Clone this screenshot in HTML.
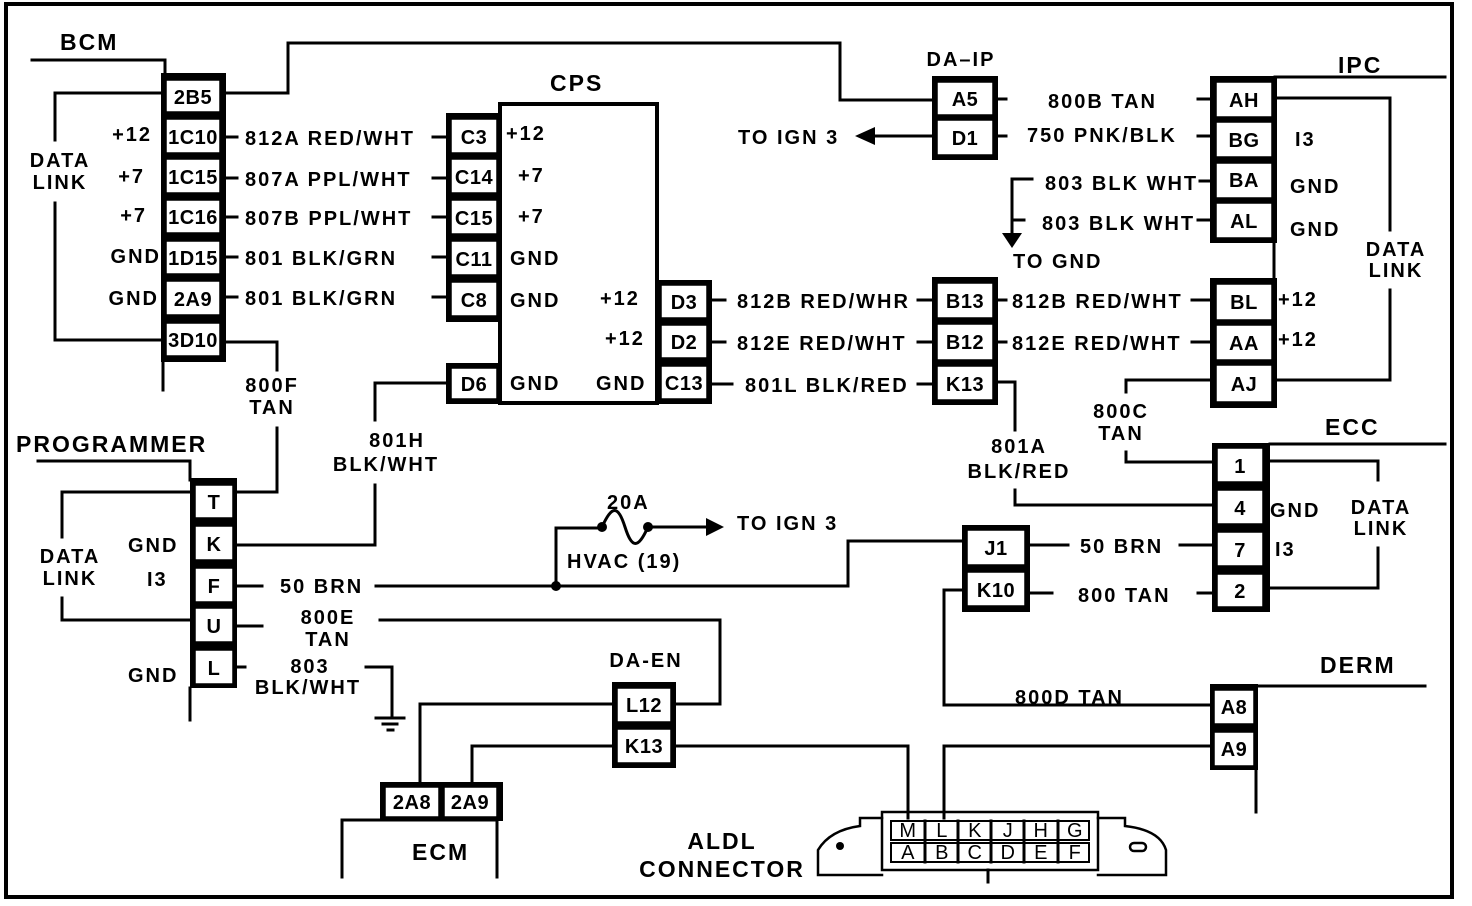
<!DOCTYPE html><html><head><meta charset="utf-8"><style>
body{margin:0;background:#fff}
svg{display:block}
text{font-family:"Liberation Sans",sans-serif;font-weight:bold;font-size:20px;fill:#000;letter-spacing:2px}
.c{text-anchor:middle}
.r{text-anchor:end}
.b{letter-spacing:0.5px}
line,polyline,path{stroke:#000;stroke-width:3;fill:none;stroke-linecap:square}
.w{fill:#fff;stroke:#000;stroke-width:1.5}
.k{fill:#000}
</style></head><body>
<svg width="1472" height="906" viewBox="0 0 1472 906" xmlns="http://www.w3.org/2000/svg">
<rect x="6" y="4" width="1446" height="893" fill="none" stroke="#000" stroke-width="4"/>

<!-- BCM -->
<text x="60" y="50" style="font-size:23px">BCM</text>
<polyline points="32,60 165,60 165,74"/>
<rect class="k" x="161" y="73" width="65" height="289"/>
<rect class="w" x="166" y="80" width="54" height="32"/><text class="c b" x="193" y="104">2B5</text>
<rect class="w" x="166" y="119" width="54" height="34"/><text class="c b" x="193" y="144">1C10</text>
<rect class="w" x="166" y="159" width="54" height="34"/><text class="c b" x="193" y="184">1C15</text>
<rect class="w" x="166" y="200" width="54" height="33"/><text class="c b" x="193" y="224">1C16</text>
<rect class="w" x="166" y="241" width="54" height="33"/><text class="c b" x="193" y="265">1D15</text>
<rect class="w" x="166" y="281" width="54" height="34"/><text class="c b" x="193" y="306">2A9</text>
<rect class="w" x="166" y="323" width="54" height="33"/><text class="c b" x="193" y="347">3D10</text>
<line x1="163" y1="362" x2="163" y2="390"/>
<polyline points="165,93 55,93 55,140"/>
<text class="c" x="60" y="167">DATA</text><text class="c" x="60" y="189">LINK</text>
<polyline points="55,203 55,340 165,340"/>
<text class="r" x="152" y="141">+12</text>
<text class="r" x="145" y="183">+7</text>
<text class="r" x="147" y="222">+7</text>
<text class="r" x="161" y="263">GND</text>
<text class="r" x="159" y="305">GND</text>
<polyline points="225,93 288,93 288,43 840,43 840,100 932,100"/>
<line x1="226" y1="137" x2="237" y2="137"/><text x="245" y="145">812A RED/WHT</text><line x1="433" y1="137" x2="446" y2="137"/>
<line x1="226" y1="178" x2="237" y2="178"/><text x="245" y="186">807A PPL/WHT</text><line x1="433" y1="178" x2="446" y2="178"/>
<line x1="226" y1="217" x2="237" y2="217"/><text x="245" y="225">807B PPL/WHT</text><line x1="433" y1="217" x2="446" y2="217"/>
<line x1="226" y1="257" x2="237" y2="257"/><text x="245" y="265">801 BLK/GRN</text><line x1="433" y1="257" x2="446" y2="257"/>
<line x1="226" y1="297" x2="237" y2="297"/><text x="245" y="305">801 BLK/GRN</text><line x1="433" y1="297" x2="446" y2="297"/>
<polyline points="226,342 277,342 277,370"/>
<text class="c" x="272" y="392">800F</text><text class="c" x="272" y="414">TAN</text>
<polyline points="277,428 277,492 236,492"/>

<!-- CPS -->
<text x="550" y="91" style="font-size:23px">CPS</text>
<rect x="500" y="104" width="157" height="299" fill="none" stroke="#000" stroke-width="4"/>
<rect class="k" x="446" y="113" width="56" height="209"/>
<rect class="w" x="451" y="119" width="46" height="34"/><text class="c b" x="474" y="144">C3</text>
<rect class="w" x="451" y="159" width="46" height="34"/><text class="c b" x="474" y="184">C14</text>
<rect class="w" x="451" y="200" width="46" height="34"/><text class="c b" x="474" y="225">C15</text>
<rect class="w" x="451" y="241" width="46" height="34"/><text class="c b" x="474" y="266">C11</text>
<rect class="w" x="451" y="282" width="46" height="34"/><text class="c b" x="474" y="307">C8</text>
<rect class="k" x="446" y="363" width="56" height="41"/>
<rect class="w" x="451" y="368" width="46" height="31"/><text class="c b" x="474" y="391">D6</text>
<text x="506" y="140">+12</text><text x="518" y="182">+7</text><text x="518" y="223">+7</text>
<text x="510" y="265">GND</text><text x="510" y="307">GND</text><text x="510" y="390">GND</text>
<rect class="k" x="656" y="280" width="56" height="124"/>
<rect class="w" x="661" y="285" width="46" height="33"/><text class="c b" x="684" y="309">D3</text>
<rect class="w" x="661" y="325" width="46" height="33"/><text class="c b" x="684" y="349">D2</text>
<rect class="w" x="661" y="366" width="46" height="33"/><text class="c b" x="684" y="390">C13</text>
<text x="600" y="305">+12</text><text x="605" y="345">+12</text><text x="596" y="390">GND</text>
<polyline points="446,383 375,383 375,420"/>
<text class="c" x="397" y="447">801H</text><text class="c" x="386" y="471">BLK/WHT</text>
<polyline points="375,485 375,545 236,545"/>
<line x1="712" y1="300" x2="725" y2="300"/><text x="737" y="308">812B RED/WHR</text><line x1="918" y1="300" x2="932" y2="300"/>
<line x1="712" y1="342" x2="725" y2="342"/><text x="737" y="350">812E RED/WHT</text><line x1="918" y1="342" x2="932" y2="342"/>
<line x1="712" y1="384" x2="732" y2="384"/><text x="745" y="392">801L BLK/RED</text><line x1="918" y1="384" x2="932" y2="384"/>

<!-- DA-IP -->
<text class="c" x="961" y="66">DA–IP</text>
<rect class="k" x="932" y="76" width="66" height="84"/>
<rect class="w" x="937" y="82" width="56" height="33"/><text class="c b" x="965" y="106">A5</text>
<rect class="w" x="937" y="120" width="56" height="35"/><text class="c b" x="965" y="145">D1</text>
<line x1="932" y1="136" x2="875" y2="136"/><path d="M855,136 L875,127 L875,145 Z" class="k" style="stroke:none"/>
<text x="738" y="144">TO IGN 3</text>
<line x1="998" y1="99" x2="1006" y2="99"/><line x1="998" y1="136" x2="1006" y2="136"/>
<text x="1048" y="108">800B TAN</text><line x1="1198" y1="99" x2="1212" y2="99"/>
<text x="1027" y="142">750 PNK/BLK</text><line x1="1198" y1="136" x2="1212" y2="136"/>

<!-- B13 group -->
<rect class="k" x="932" y="277" width="66" height="128"/>
<rect class="w" x="937" y="283" width="56" height="35"/><text class="c b" x="965" y="308">B13</text>
<rect class="w" x="937" y="324" width="56" height="36"/><text class="c b" x="965" y="349">B12</text>
<rect class="w" x="937" y="366" width="56" height="34"/><text class="c b" x="965" y="391">K13</text>
<line x1="998" y1="300" x2="1006" y2="300"/><text x="1012" y="308">812B RED/WHT</text><line x1="1192" y1="300" x2="1212" y2="300"/>
<line x1="998" y1="342" x2="1006" y2="342"/><text x="1012" y="350">812E RED/WHT</text><line x1="1192" y1="342" x2="1212" y2="342"/>
<polyline points="998,382 1015,382 1015,430"/>
<text class="c" x="1019" y="453">801A</text><text class="c" x="1019" y="478">BLK/RED</text>
<polyline points="1015,490 1015,505 1214,505"/>

<!-- IPC -->
<text x="1338" y="73" style="font-size:23px">IPC</text>
<line x1="1275" y1="77" x2="1445" y2="77"/>
<rect class="k" x="1210" y="76" width="67" height="167"/>
<rect class="w" x="1216" y="82" width="56" height="35"/><text class="c b" x="1244" y="107">AH</text>
<rect class="w" x="1216" y="122" width="56" height="35"/><text class="c b" x="1244" y="147">BG</text>
<rect class="w" x="1216" y="163" width="56" height="35"/><text class="c b" x="1244" y="187">BA</text>
<rect class="w" x="1216" y="203" width="56" height="35"/><text class="c b" x="1244" y="228">AL</text>
<line x1="1274" y1="243" x2="1274" y2="280"/>
<rect class="k" x="1210" y="278" width="67" height="130"/>
<rect class="w" x="1216" y="284" width="56" height="36"/><text class="c b" x="1244" y="309">BL</text>
<rect class="w" x="1216" y="325" width="56" height="35"/><text class="c b" x="1244" y="350">AA</text>
<rect class="w" x="1216" y="365" width="56" height="37"/><text class="c b" x="1244" y="391">AJ</text>
<text x="1295" y="146">I3</text><text x="1290" y="193">GND</text><text x="1290" y="236">GND</text>
<text x="1278" y="306">+12</text><text x="1278" y="346">+12</text>
<polyline points="1277,98 1390,98 1390,230"/>
<text class="c" x="1396" y="256">DATA</text><text class="c" x="1396" y="277">LINK</text>
<polyline points="1390,290 1390,380 1277,380"/>
<polyline points="1210,380 1126,380 1126,392"/>
<text class="c" x="1121" y="418">800C</text><text class="c" x="1121" y="440">TAN</text>
<polyline points="1126,452 1126,462 1214,462"/>
<text x="1045" y="190">803 BLK WHT</text><line x1="1200" y1="181" x2="1212" y2="181"/>
<text x="1042" y="230">803 BLK WHT</text><line x1="1198" y1="220" x2="1212" y2="220"/>
<polyline points="1032,179 1012,179 1012,235"/><line x1="1012" y1="220" x2="1024" y2="220"/>
<path d="M1002,233 L1022,233 L1012,248 Z" class="k" style="stroke:none"/>
<text x="1013" y="268">TO GND</text>

<!-- ECC -->
<text x="1325" y="435" style="font-size:23px">ECC</text>
<line x1="1270" y1="444" x2="1445" y2="444"/>
<rect class="k" x="1212" y="443" width="58" height="169"/>
<rect class="w" x="1217" y="448" width="46" height="34"/><text class="c b" x="1240" y="473">1</text>
<rect class="w" x="1217" y="490" width="46" height="34"/><text class="c b" x="1240" y="515">4</text>
<rect class="w" x="1217" y="532" width="46" height="34"/><text class="c b" x="1240" y="557">7</text>
<rect class="w" x="1217" y="574" width="46" height="33"/><text class="c b" x="1240" y="598">2</text>
<text x="1270" y="517">GND</text><text x="1275" y="556">I3</text>
<polyline points="1270,461 1378,461 1378,480"/>
<text class="c" x="1381" y="514">DATA</text><text class="c" x="1381" y="535">LINK</text>
<polyline points="1378,548 1378,588 1270,588"/>

<!-- J1/K10 -->
<rect class="k" x="962" y="525" width="68" height="87"/>
<rect class="w" x="967" y="530" width="58" height="35"/><text class="c b" x="996" y="555">J1</text>
<rect class="w" x="967" y="572" width="58" height="34"/><text class="c b" x="996" y="597">K10</text>
<line x1="1030" y1="545" x2="1068" y2="545"/><text x="1080" y="553">50 BRN</text><line x1="1180" y1="545" x2="1214" y2="545"/>
<line x1="1030" y1="593" x2="1052" y2="593"/><text x="1078" y="602">800 TAN</text><line x1="1198" y1="593" x2="1214" y2="593"/>
<polyline points="962,541 848,541 848,586 376,586"/>
<line x1="236" y1="586" x2="262" y2="586"/><text x="280" y="593">50 BRN</text>
<circle cx="556" cy="586" r="5" class="k"/>
<polyline points="556,586 556,528 600,528"/>
<circle cx="602" cy="527" r="5" class="k"/><circle cx="648" cy="527" r="5" class="k"/>
<path d="M602,527 C612,505 618,505 625,527 C632,549 638,549 648,527"/>
<line x1="648" y1="527" x2="710" y2="527"/><path d="M706,518 L724,527 L706,536 Z" class="k" style="stroke:none"/>
<text x="607" y="509">20A</text><text x="567" y="568">HVAC (19)</text><text x="737" y="530">TO IGN 3</text>
<polyline points="962,590 944,590 944,705 1210,705"/>
<text x="1015" y="704">800D TAN</text>

<!-- DERM -->
<text x="1320" y="673" style="font-size:23px">DERM</text>
<line x1="1258" y1="686" x2="1425" y2="686"/>
<rect class="k" x="1210" y="684" width="48" height="86"/>
<rect class="w" x="1214" y="690" width="40" height="34"/><text class="c b" x="1234" y="714">A8</text>
<rect class="w" x="1214" y="732" width="40" height="34"/><text class="c b" x="1234" y="756">A9</text>
<line x1="1256" y1="770" x2="1256" y2="812"/>
<polyline points="1210,746 944,746 944,818"/>

<!-- DA-EN -->
<text class="c" x="646" y="667">DA-EN</text>
<rect class="k" x="612" y="682" width="64" height="86"/>
<rect class="w" x="617" y="688" width="54" height="34"/><text class="c b" x="644" y="712">L12</text>
<rect class="w" x="617" y="729" width="54" height="34"/><text class="c b" x="644" y="753">K13</text>
<polyline points="676,704 720,704 720,620 380,620"/>
<line x1="236" y1="626" x2="262" y2="626"/>
<text class="c" x="328" y="624">800E</text><text class="c" x="328" y="646">TAN</text>
<polyline points="612,704 420,704 420,786"/>
<polyline points="612,746 472,746 472,786"/>
<polyline points="676,746 908,746 908,818"/>
<line x1="236" y1="667" x2="245" y2="667"/>
<text class="c" x="310" y="673">803</text><text class="c" x="308" y="694">BLK/WHT</text>
<polyline points="366,667 392,667 392,718"/>
<line x1="376" y1="718" x2="404" y2="718"/><line x1="383" y1="724" x2="397" y2="724"/><line x1="388" y1="730" x2="393" y2="730"/>

<!-- PROGRAMMER -->
<text x="16" y="452" style="font-size:23px">PROGRAMMER</text>
<polyline points="38,461 190,461 190,480"/>
<rect class="k" x="190" y="478" width="47" height="210"/>
<rect class="w" x="195" y="485" width="38" height="33"/><text class="c b" x="214" y="509">T</text>
<rect class="w" x="195" y="526" width="38" height="34"/><text class="c b" x="214" y="551">K</text>
<rect class="w" x="195" y="568" width="38" height="34"/><text class="c b" x="214" y="593">F</text>
<rect class="w" x="195" y="608" width="38" height="34"/><text class="c b" x="214" y="633">U</text>
<rect class="w" x="195" y="650" width="38" height="34"/><text class="c b" x="214" y="675">L</text>
<line x1="190" y1="688" x2="190" y2="720"/>
<text x="128" y="552">GND</text><text x="147" y="586">I3</text><text x="128" y="682">GND</text>
<polyline points="190,492 62,492 62,537"/>
<text class="c" x="70" y="563">DATA</text><text class="c" x="70" y="585">LINK</text>
<polyline points="62,598 62,620 190,620"/>

<!-- ECM -->
<rect class="k" x="380" y="782" width="123" height="39"/>
<rect class="w" x="385" y="787" width="54" height="30"/><text class="c b" x="412" y="809">2A8</text>
<rect class="w" x="444" y="787" width="53" height="30"/><text class="c b" x="470" y="809">2A9</text>
<polyline points="342,877 342,820 497,820 497,877"/>
<text x="412" y="860" style="font-size:23px">ECM</text>

<!-- ALDL -->
<text class="c" x="722" y="849" style="font-size:23px">ALDL</text>
<text class="c" x="722" y="877" style="font-size:23px">CONNECTOR</text>
<path d="M882,818 L860,818 L860,826 Q830,830 818,850 L818,875 L882,875" style="stroke-width:2.5"/>
<path d="M1098,818 L1125,818 L1125,826 Q1160,830 1166,850 L1166,875 L1098,875" style="stroke-width:2.5"/>
<circle cx="840" cy="846" r="4" style="stroke-width:2.5"/>
<rect x="1130" y="843" width="16" height="8" rx="4" style="stroke:#000;stroke-width:2.5;fill:none"/>
<rect x="882" y="812" width="216" height="58" style="stroke:#000;stroke-width:2.5;fill:none"/>
<rect x="891" y="821" width="198" height="19" style="stroke:#000;stroke-width:2;fill:none"/>
<rect x="891" y="843" width="198" height="19" style="stroke:#000;stroke-width:2;fill:none"/>
<line x1="988" y1="870" x2="988" y2="882"/>
<g style="font-size:15px">
<text class="c b" x="908" y="837" style="font-weight:normal">M</text><text class="c b" x="942" y="837" style="font-weight:normal">L</text><text class="c b" x="975" y="837" style="font-weight:normal">K</text><text class="c b" x="1008" y="837" style="font-weight:normal">J</text><text class="c b" x="1041" y="837" style="font-weight:normal">H</text><text class="c b" x="1075" y="837" style="font-weight:normal">G</text>
<text class="c b" x="908" y="859" style="font-weight:normal">A</text><text class="c b" x="942" y="859" style="font-weight:normal">B</text><text class="c b" x="975" y="859" style="font-weight:normal">C</text><text class="c b" x="1008" y="859" style="font-weight:normal">D</text><text class="c b" x="1041" y="859" style="font-weight:normal">E</text><text class="c b" x="1075" y="859" style="font-weight:normal">F</text>
</g>
<g style="stroke-width:2">
<line x1="925" y1="821" x2="925" y2="862"/><line x1="958" y1="821" x2="958" y2="862"/><line x1="991" y1="821" x2="991" y2="862"/><line x1="1024" y1="821" x2="1024" y2="862"/><line x1="1058" y1="821" x2="1058" y2="862"/>
</g>
</svg>
</body></html>
